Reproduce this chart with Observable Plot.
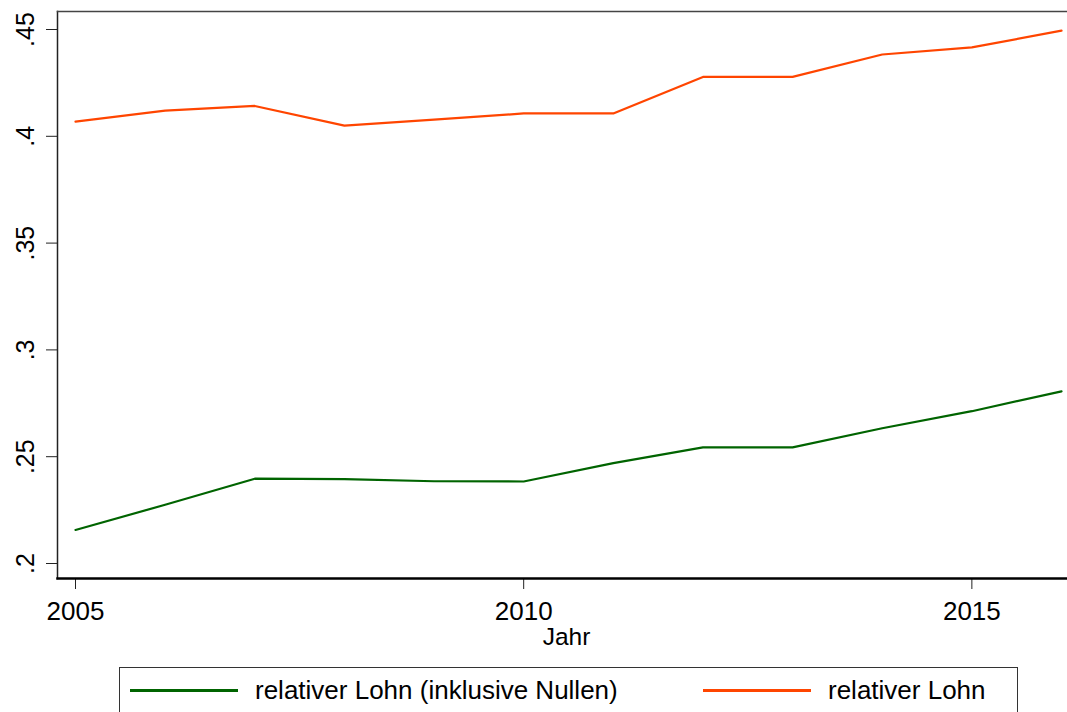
<!DOCTYPE html>
<html>
<head>
<meta charset="utf-8">
<script src="https://cdn.jsdelivr.net/npm/d3@7"></script>
<script src="https://cdn.jsdelivr.net/npm/@observablehq/plot@0.6"></script>
<style>
  html, body { margin: 0; padding: 0; background: #fff; }
  #wrap { position: relative; width: 1067px; height: 712px; overflow: hidden; font-family: "Liberation Sans", Arial, sans-serif; }
  #legend { position: absolute; left: 119px; top: 667px; width: 899px; height: 70px; border: 1.5px solid #333; box-sizing: border-box; }
  .sw { position: absolute; height: 3px; top: 21px; }
  .lt { position: absolute; top: 7px; font-size: 26px; color: #000; white-space: nowrap; line-height: 30px; }
</style>
</head>
<body>
<div id="wrap">
  <div id="chart"></div>
  <div id="legend"></div>
</div>
<script>
const years = [2005, 2006, 2007, 2008, 2009, 2010, 2011, 2012, 2013, 2014, 2015, 2016];
const lohnInklNullen = [0.2157, 0.2275, 0.2397, 0.2395, 0.2385, 0.2384, 0.2470, 0.2544, 0.2544, 0.2633, 0.2713, 0.2806];
const lohn = [0.4069, 0.4120, 0.4142, 0.4050, 0.4078, 0.4107, 0.4107, 0.4278, 0.4278, 0.4383, 0.4416, 0.4495];
const seriesNames = ["relativer Lohn (inklusive Nullen)", "relativer Lohn"];
const seriesColors = ["#006400", "#ff4500"];
const xTicks = [2005, 2010, 2015];
const yTicks = [0.2, 0.25, 0.3, 0.35, 0.4, 0.45];
const xLabel = "Jahr";

const rows = [];
years.forEach((y, i) => {
  rows.push({year: y, value: lohnInklNullen[i], series: seriesNames[0]});
  rows.push({year: y, value: lohn[i], series: seriesNames[1]});
});

const chart = Plot.plot({
  width: 1067,
  height: 650,
  marginTop: 11,
  marginLeft: 57,
  marginRight: 0,
  marginBottom: 72,
  style: {fontFamily: '"Liberation Sans", Arial, sans-serif', color: "#000", background: "#fff"},
  x: {domain: [2005, 2016], insetLeft: 18, insetRight: 6},
  y: {domain: [0.2, 0.45], insetTop: 18, insetBottom: 15},
  color: {domain: seriesNames, range: seriesColors},
  marks: [
    Plot.frame({anchor: "left", stroke: "#222", strokeWidth: 1.5}),
    Plot.frame({anchor: "top", stroke: "#444", strokeWidth: 1.5}),
    Plot.axisX({ticks: xTicks, tickFormat: d => String(d), tickSize: 11, tickPadding: 12, fontSize: 26, label: null, stroke: "#222"}),
    Plot.axisY({ticks: yTicks, tickFormat: d => String(d).replace(/^0/, ""), tickSize: 11, tickRotate: -90, tickPadding: 13, fontSize: 25, label: null, stroke: "#222"}),
    Plot.line(rows, {x: "year", y: "value", z: "series", stroke: "series", strokeWidth: 2.2}),
    Plot.frame({anchor: "bottom", stroke: "#000", strokeWidth: 2.5}),
    Plot.text([xLabel], {frameAnchor: "bottom", dx: 4, dy: 66, fontSize: 24.5, lineAnchor: "bottom"})
  ]
});
document.getElementById("chart").appendChild(chart);

// legend
const legend = document.getElementById("legend");
const legendPos = [{sw: 10, tx: 135}, {sw: 583, tx: 708}];
seriesNames.forEach((name, i) => {
  const sw = document.createElement("div");
  sw.className = "sw";
  sw.style.left = legendPos[i].sw + "px";
  sw.style.width = "108px";
  sw.style.background = seriesColors[i];
  legend.appendChild(sw);
  const t = document.createElement("div");
  t.className = "lt";
  t.style.left = legendPos[i].tx + "px";
  t.textContent = name;
  legend.appendChild(t);
});
</script>
</body>
</html>
